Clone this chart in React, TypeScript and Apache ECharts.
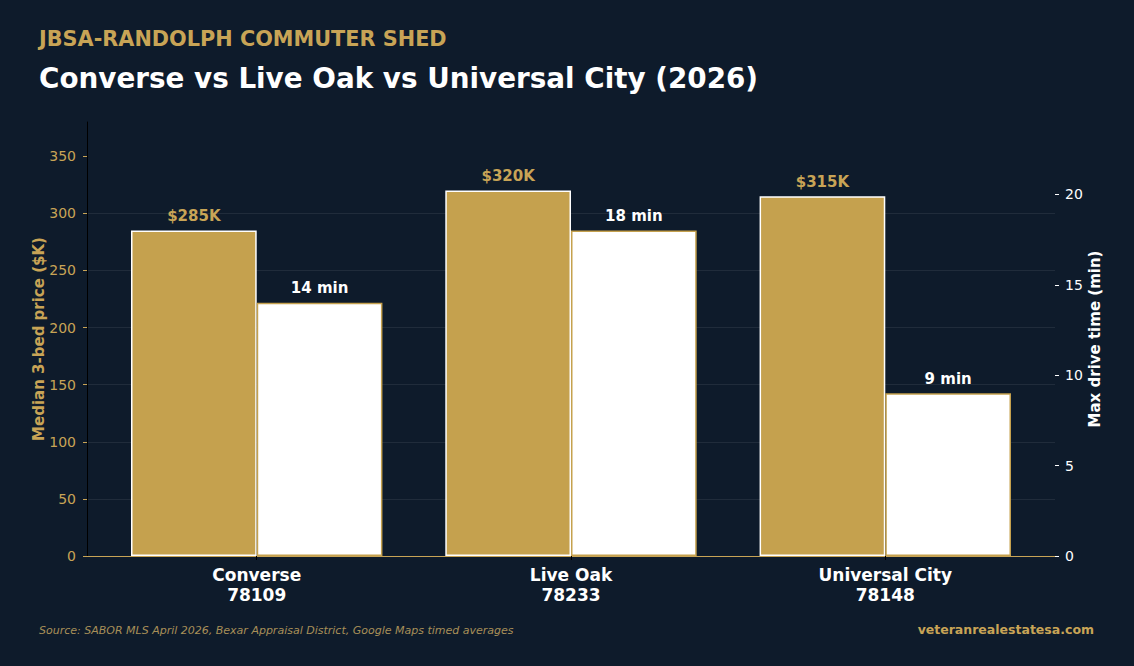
import { useEffect, useRef } from 'react';
import * as echarts from 'echarts';

// Commuter-shed comparison: median 3-bed price vs max drive time
const areas = ['Converse', 'Live Oak', 'Universal City'];
const zipCodes = ['78109', '78233', '78148'];
const medianPriceK = [285, 320, 315];
const maxDriveMin = [14, 18, 9];
const priceTicks = [0, 50, 100, 150, 200, 250, 300, 350];
const driveTicks = [0, 5, 10, 15, 20];

const BG = '#0e1b2b';
const GOLD = '#c8a456';
const GOLD_BAR = '#c5a14e';
const FONT = 'DejaVu Sans';

export default function App() {
  const ref = useRef<HTMLDivElement>(null);

  useEffect(() => {
    if (!ref.current) return;
    const chart = echarts.init(ref.current, undefined, { renderer: 'svg' });
    const catIdx = areas.map((_, i) => i);

    chart.setOption({
      animation: false,
      backgroundColor: BG,
      textStyle: { fontFamily: FONT },
      grid: { left: 87, right: 79, top: 122, bottom: 110, containLabel: false },
      graphic: [
        {
          type: 'text',
          x: 39,
          y: 39,
          style: {
            text: 'JBSA-RANDOLPH COMMUTER SHED',
            fill: GOLD,
            font: `bold 20.8px "${FONT}"`,
            verticalAlign: 'middle',
          },
        },
        {
          type: 'text',
          x: 39,
          y: 78,
          style: {
            text: 'Converse vs Live Oak vs Universal City (2026)',
            fill: '#ffffff',
            font: `bold 27.8px "${FONT}"`,
            verticalAlign: 'middle',
          },
        },
        {
          type: 'text',
          x: 39,
          y: 630,
          style: {
            text: 'Source: SABOR MLS April 2026, Bexar Appraisal District, Google Maps timed averages',
            fill: '#a88f58',
            font: `italic 11px "${FONT}"`,
            verticalAlign: 'middle',
          },
        },
        {
          type: 'text',
          x: 1094,
          y: 629,
          style: {
            text: 'veteranrealestatesa.com',
            fill: GOLD,
            font: `bold 12.5px "${FONT}"`,
            align: 'right',
            verticalAlign: 'middle',
          },
        },
      ],
      xAxis: {
        type: 'value',
        min: -0.54,
        max: 2.54,
        axisLine: { show: true, onZero: false, lineStyle: { color: GOLD, width: 1 } },
        axisTick: { show: true, customValues: catIdx, length: 4, lineStyle: { color: '#000' } },
        axisLabel: {
          customValues: catIdx,
          formatter: (v: number) => {
            const i = Math.round(v);
            return `${areas[i]}\n${zipCodes[i]}`;
          },
          color: '#ffffff',
          fontWeight: 'bold',
          fontSize: 17,
          lineHeight: 20,
          margin: 9,
          fontFamily: FONT,
        },
        splitLine: { show: false },
      },
      yAxis: [
        {
          type: 'value',
          position: 'left',
          min: 0,
          max: 380,
          interval: 50,
          axisLine: { show: true, onZero: false, lineStyle: { color: '#000', width: 1 } },
          axisTick: { show: true, customValues: priceTicks, length: 4, lineStyle: { color: GOLD } },
          axisLabel: { customValues: priceTicks, color: GOLD, fontSize: 14, margin: 11, fontFamily: FONT },
          splitLine: { show: true, showMaxLine: false, lineStyle: { color: 'rgba(255,255,255,0.08)', width: 1 } },
          name: 'Median 3-bed price ($K)',
          nameLocation: 'middle',
          nameRotate: 90,
          nameGap: 41,
          nameMoveOverlap: false,
          nameTextStyle: { color: GOLD, fontWeight: 'bold', fontSize: 15, fontFamily: FONT },
        },
        {
          type: 'value',
          position: 'right',
          min: 0,
          max: 24,
          interval: 5,
          axisLine: { show: false, onZero: false },
          axisTick: { show: true, customValues: driveTicks, length: 4, lineStyle: { color: '#ffffff' } },
          axisLabel: { customValues: driveTicks, color: '#ffffff', fontSize: 14, margin: 10, fontFamily: FONT },
          splitLine: { show: false },
          name: 'Max drive time (min)',
          nameLocation: 'middle',
          nameRotate: 90,
          nameGap: 32,
          nameMoveOverlap: false,
          nameTextStyle: { color: '#ffffff', fontWeight: 'bold', fontSize: 15, fontFamily: FONT },
        },
      ],
      series: [
        {
          type: 'bar',
          name: 'Median 3-bed price ($K)',
          yAxisIndex: 0,
          data: catIdx.map((i) => [i, medianPriceK[i]]),
          barWidth: '40%',
          barGap: '0%',
          itemStyle: { color: GOLD_BAR, borderColor: '#ffffff', borderWidth: 1.5 },
          label: {
            show: true,
            position: 'top',
            distance: 7,
            formatter: (p: any) => `$${p.value[1]}K`,
            color: GOLD,
            fontWeight: 'bold',
            fontSize: 15,
            fontFamily: FONT,
          },
        },
        {
          type: 'bar',
          name: 'Max drive time (min)',
          yAxisIndex: 1,
          data: catIdx.map((i) => [i, maxDriveMin[i]]),
          barWidth: '40%',
          barGap: '0%',
          itemStyle: { color: '#ffffff', borderColor: GOLD_BAR, borderWidth: 1.5 },
          label: {
            show: true,
            position: 'top',
            distance: 7,
            formatter: (p: any) => `${p.value[1]} min`,
            color: '#ffffff',
            fontWeight: 'bold',
            fontSize: 15,
            fontFamily: FONT,
          },
        },
      ],
    });

    return () => chart.dispose();
  }, []);

  return (
    <div
      ref={ref}
      style={{ position: 'fixed', left: 0, top: 0, width: 1134, height: 666 }}
    />
  );
}
